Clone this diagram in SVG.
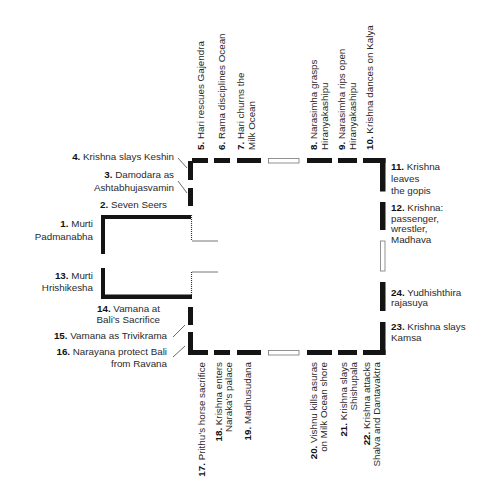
<svg xmlns="http://www.w3.org/2000/svg" width="500" height="500" viewBox="0 0 500 500">
<style>
.bar{fill:#141414}
.hol{fill:#fff;stroke:#777;stroke-width:0.8}
.thin{stroke:#777;stroke-width:1;fill:none}
.dot{stroke:#333;stroke-width:1.2;stroke-dasharray:1 1;fill:none}
.lead{stroke:#444;stroke-width:0.8;fill:none}
text{font-family:"Liberation Sans",Arial,sans-serif;font-size:9.8px;fill:#2a2a2a}
.n{font-weight:bold;fill:#111}
.r{text-anchor:end}
</style>
<rect width="500" height="500" fill="#fff"/>
<g id="connectors">
<line class="lead" x1="178" y1="158" x2="187" y2="168"/>
<line class="lead" x1="178" y1="181" x2="187" y2="193"/>
<line class="lead" x1="173" y1="337" x2="185" y2="325"/>
<line class="lead" x1="173" y1="357" x2="185" y2="346"/>
</g>
<g id="n1">
<rect class="bar" x="101" y="215" width="90" height="4"/>
<rect class="bar" x="101" y="215" width="4" height="39"/>
<line class="dot" x1="191.5" y1="215" x2="191.5" y2="241"/>
<line class="thin" x1="192" y1="241" x2="218" y2="241"/>
<text class="r" x="93" y="227"><tspan class="n">1.</tspan> Murti</text>
<text class="r" x="93" y="240">Padmanabha</text>
</g>
<g id="n2"><text x="100" y="208"><tspan class="n">2.</tspan> Seven Seers</text></g>
<g id="n3">
<rect class="bar" x="188" y="188" width="5" height="18"/>
<text class="r" x="174" y="178"><tspan class="n">3.</tspan> Damodara as</text>
<text class="r" x="174" y="191">Ashtabhujasvamin</text>
</g>
<g id="n4">
<rect class="bar" x="188" y="161" width="5" height="19"/>
<text class="r" x="174" y="160"><tspan class="n">4.</tspan> Krishna slays Keshin</text>
</g>
<g id="n5">
<rect class="bar" x="192" y="158" width="16" height="5"/>
<text transform="translate(204,150) rotate(-90)"><tspan class="n">5.</tspan> Hari rescues Gajendra</text>
</g>
<g id="n6">
<rect class="bar" x="214" y="158" width="16" height="5"/>
<text transform="translate(225,150) rotate(-90)"><tspan class="n">6.</tspan> Rama disciplines Ocean</text>
</g>
<g id="n7">
<rect class="bar" x="237" y="158" width="24" height="5"/>
<text transform="translate(244,150) rotate(-90)"><tspan class="n">7.</tspan> Hari churns the</text>
<text transform="translate(255,150) rotate(-90)">Milk Ocean</text>
</g>
<g id="gap-top"><rect class="hol" x="268.5" y="158.5" width="30.5" height="4.5"/></g>
<g id="n8">
<rect class="bar" x="307" y="158" width="25" height="5"/>
<text transform="translate(317,150) rotate(-90)"><tspan class="n">8.</tspan> Narasimha grasps</text>
<text transform="translate(327.5,150) rotate(-90)">Hiranyakashipu</text>
</g>
<g id="n9">
<rect class="bar" x="338" y="158" width="19" height="5"/>
<text transform="translate(345,150) rotate(-90)"><tspan class="n">9.</tspan> Narasimha rips open</text>
<text transform="translate(355.5,150) rotate(-90)">Hiranyakashipu</text>
</g>
<g id="n10">
<rect class="bar" x="363" y="158" width="22.5" height="5"/>
<text transform="translate(373,150) rotate(-90)"><tspan class="n">10.</tspan> Krishna dances on Kalya</text>
</g>
<g id="n11">
<rect class="bar" x="380" y="158" width="5.5" height="33.5"/>
<text x="391" y="170"><tspan class="n">11.</tspan> Krishna</text>
<text x="391" y="182">leaves</text>
<text x="391" y="193.5">the gopis</text>
</g>
<g id="n12">
<rect class="bar" x="380" y="202" width="5.5" height="28"/>
<text x="391" y="211"><tspan class="n">12.</tspan> Krishna:</text>
<text x="391" y="221.5">passenger,</text>
<text x="391" y="232">wrestler,</text>
<text x="391" y="242.5">Madhava</text>
</g>
<g id="gap-right"><rect class="hol" x="380.5" y="241" width="4.5" height="30"/></g>
<g id="n24">
<rect class="bar" x="380" y="282" width="5.5" height="29"/>
<text x="391" y="296"><tspan class="n">24.</tspan> Yudhishthira</text>
<text x="391" y="306">rajasuya</text>
</g>
<g id="n23">
<rect class="bar" x="380" y="322" width="5.5" height="33"/>
<text x="391" y="329.5"><tspan class="n">23.</tspan> Krishna slays</text>
<text x="391" y="340.5">Kamsa</text>
</g>
<g id="n22">
<rect class="bar" x="363" y="350" width="22.5" height="5"/>
<text class="r" transform="translate(370,362) rotate(-90)"><tspan class="n">22.</tspan> Krishna attacks</text>
<text class="r" transform="translate(380,362) rotate(-90)">Shalva and Dantavaktra</text>
</g>
<g id="n21">
<rect class="bar" x="338" y="350" width="19" height="5"/>
<text class="r" transform="translate(346.5,362) rotate(-90)"><tspan class="n">21.</tspan> Krishna slays</text>
<text class="r" transform="translate(356.5,362) rotate(-90)">Shishupala</text>
</g>
<g id="n20">
<rect class="bar" x="307" y="350" width="25" height="5"/>
<text class="r" transform="translate(317,362) rotate(-90)"><tspan class="n">20.</tspan> Vishnu kills asuras</text>
<text class="r" transform="translate(327,362) rotate(-90)">on Milk Ocean shore</text>
</g>
<g id="gap-bottom"><rect class="hol" x="268.5" y="350.5" width="30.5" height="4.5"/></g>
<g id="n19">
<rect class="bar" x="237" y="350" width="24" height="5"/>
<text class="r" transform="translate(250.5,362) rotate(-90)"><tspan class="n">19.</tspan> Madhusudana</text>
</g>
<g id="n18">
<rect class="bar" x="214" y="350" width="16" height="5"/>
<text class="r" transform="translate(221.5,362) rotate(-90)"><tspan class="n">18.</tspan> Krishna enters</text>
<text class="r" transform="translate(231.5,362) rotate(-90)">Naraka’s palace</text>
</g>
<g id="n17">
<rect class="bar" x="192" y="350" width="16" height="5"/>
<text class="r" transform="translate(205,362) rotate(-90)"><tspan class="n">17.</tspan> Prithu’s horse sacrifice</text>
</g>
<g id="n16">
<rect class="bar" x="188" y="332" width="5" height="23"/>
<text class="r" x="167" y="354.5"><tspan class="n">16.</tspan> Narayana protect Bali</text>
<text class="r" x="167" y="367">from Ravana</text>
</g>
<g id="n15">
<text class="r" x="167" y="338.5"><tspan class="n">15.</tspan> Vamana as Trivikrama</text>
</g>
<g id="n14">
<rect class="bar" x="188" y="307" width="5" height="18"/>
<text class="r" x="160" y="312"><tspan class="n">14.</tspan> Vamana at</text>
<text class="r" x="160" y="322.5">Bali’s Sacrifice</text>
</g>
<g id="n13">
<rect class="bar" x="101" y="268" width="4" height="31"/>
<rect class="bar" x="101" y="294.5" width="91" height="4.5"/>
<line class="dot" x1="191.5" y1="272" x2="191.5" y2="295"/>
<line class="thin" x1="192" y1="272" x2="218" y2="272"/>
<text class="r" x="93" y="278.5"><tspan class="n">13.</tspan> Murti</text>
<text class="r" x="93" y="291">Hrishikesha</text>
</g>
</svg>
